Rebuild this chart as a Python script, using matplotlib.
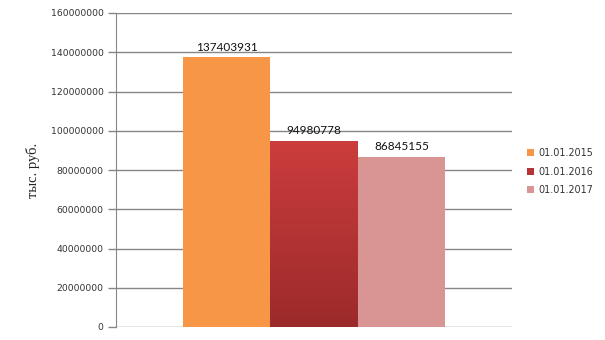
import matplotlib
matplotlib.use("Agg")
import matplotlib.pyplot as plt
import numpy as np
from matplotlib.patches import Patch
from matplotlib.colors import LinearSegmentedColormap

series = ["01.01.2015", "01.01.2016", "01.01.2017"]
values = [137403931, 94980778, 86845155]
colors = ["#f79646", "#c0393b", "#d99594"]
yticks = [0, 20000000, 40000000, 60000000, 80000000, 100000000, 120000000, 140000000, 160000000]

fig = plt.figure(figsize=(6.05, 3.4), dpi=100)
ax = fig.add_axes([116/605, 13/340, (512-116)/605, (327-13)/340])

w = 0.221
pos = [-w, 0, w]
bars = ax.bar(pos, values, width=w, color=colors, zorder=3, linewidth=0)

# gradient on the middle bar
b = bars[1]
b.set_facecolor("none")
cmap = LinearSegmentedColormap.from_list("g", ["#9c2a2a", "#cc3d3d"])
grad = np.linspace(0, 1, 256).reshape(-1, 1)
x0 = b.get_x(); x1 = x0 + b.get_width()
im = ax.imshow(grad, extent=[x0, x1, 0, b.get_height()], origin="lower", aspect="auto",
               cmap=cmap, zorder=3)
im.set_clip_path(b)

ax.set_xlim(-0.5, 0.5)
ax.set_ylim(0, 160000000)
ax.set_yticks(yticks)
ax.set_yticklabels([str(v) for v in yticks], fontsize=6.7, family="DejaVu Sans", color="#333333")
ax.set_xticks([])
ax.grid(axis="y", color="#868686", linewidth=1, zorder=0)
ax.tick_params(axis="y", length=6, color="#868686", width=1, pad=3)
for s in ["top", "right", "bottom"]:
    ax.spines[s].set_visible(False)
ax.spines["left"].set_color("#868686")

for p, v in zip(pos, values):
    ax.text(p, v + 2200000, str(v), ha="center", va="bottom", fontsize=8.5,
            family="Lato", color="#111111")

ax.set_ylabel("тыс. руб.", family="Liberation Serif", fontsize=10.5, labelpad=8, color="#222222")

handles = [Patch(facecolor=c, edgecolor="none") for c in ["#f79646", "#b83434", "#d99594"]]
leg = fig.legend(handles, series, loc="upper left", bbox_to_anchor=(527/605, 1 - 148/340),
                 frameon=False, fontsize=6.9, handlelength=0.75, handleheight=0.75,
                 handletextpad=0.45, labelspacing=0.9, borderaxespad=0, borderpad=0)
for t in leg.get_texts():
    t.set_color("#333333")

fig.savefig("out.png", dpi=100)
